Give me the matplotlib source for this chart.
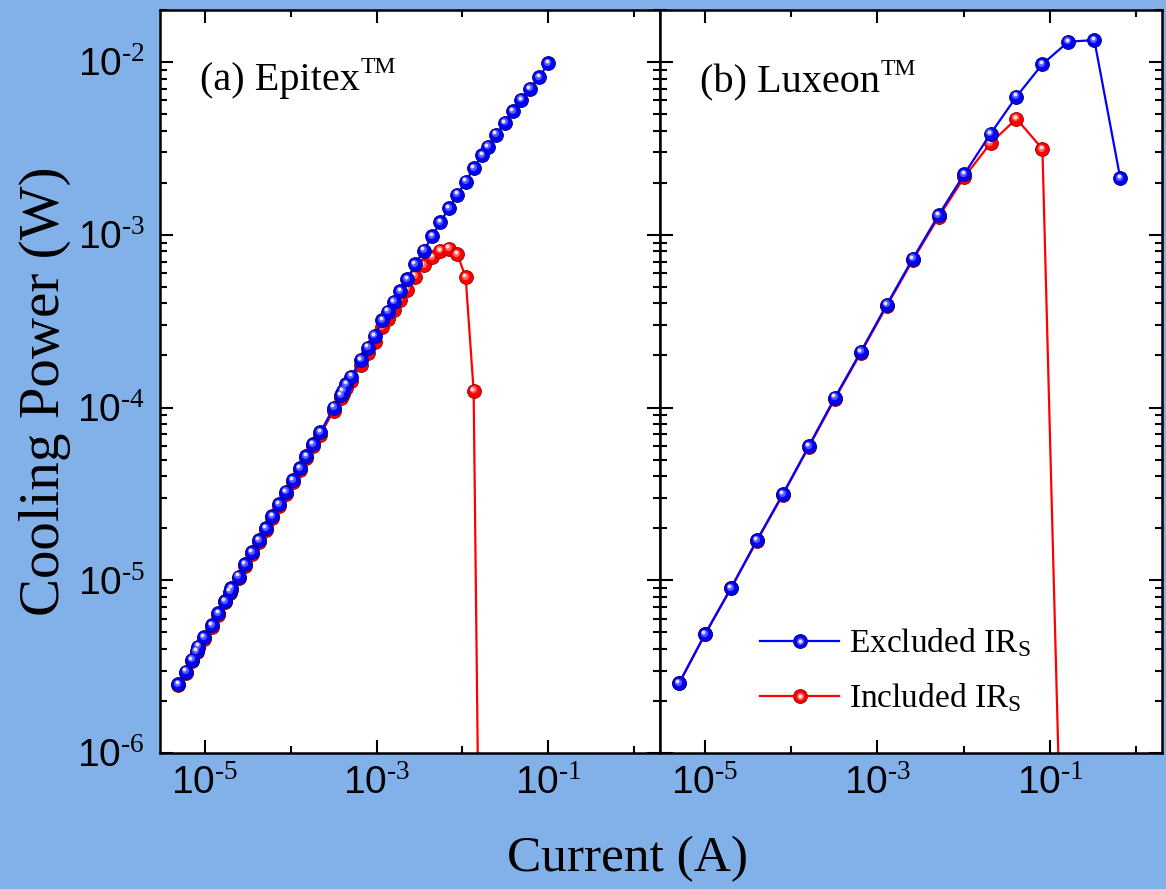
import numpy as np
import matplotlib
matplotlib.use('Agg')
import matplotlib.pyplot as plt
from matplotlib.lines import Line2D
from matplotlib.legend_handler import HandlerTuple
from matplotlib.ticker import LogLocator, NullFormatter, FuncFormatter
from matplotlib.transforms import offset_copy

plt.rcParams['font.family'] = 'Liberation Serif'
plt.rcParams['mathtext.fontset'] = 'custom'
plt.rcParams['mathtext.rm'] = 'Liberation Serif'
plt.rcParams['mathtext.it'] = 'Liberation Serif:italic'
plt.rcParams['mathtext.bf'] = 'Liberation Serif:bold'

# ---- data (A, W) ----
# (a) Epitex
epi_current = [4.9e-6, 6.0e-6, 7.1e-6, 8.0e-6, 8.4e-6, 9.8e-6, 1.2e-5, 1.43e-5, 1.71e-5,
               1.95e-5, 2.04e-5, 2.47e-5, 2.94e-5, 3.55e-5, 4.28e-5, 5.12e-5, 6.13e-5,
               7.31e-5, 8.75e-5, 1.06e-4, 1.27e-4, 1.52e-4, 1.82e-4, 2.22e-4, 3.16e-4,
               3.81e-4, 4.02e-4, 4.44e-4, 5.08e-4, 6.52e-4, 7.92e-4, 9.48e-4, 1.17e-3,
               1.35e-3, 1.58e-3, 1.89e-3, 2.28e-3, 2.80e-3, 3.54e-3, 4.44e-3, 5.55e-3,
               6.93e-3, 8.75e-3, 1.09e-2, 1.35e-2, 1.70e-2, 1.97e-2, 2.47e-2, 3.10e-2,
               3.89e-2, 4.85e-2, 6.06e-2, 7.86e-2, 1.0e-1]
epi_excluded = [2.51e-6, 2.96e-6, 3.46e-6, 3.90e-6, 4.13e-6, 4.68e-6, 5.49e-6, 6.44e-6,
                7.59e-6, 8.59e-6, 8.99e-6, 1.05e-5, 1.24e-5, 1.45e-5, 1.70e-5, 2.00e-5,
                2.34e-5, 2.76e-5, 3.25e-5, 3.81e-5, 4.45e-5, 5.24e-5, 6.15e-5, 7.19e-5,
                1.00e-4, 1.18e-4, 1.25e-4, 1.36e-4, 1.51e-4, 1.89e-4, 2.22e-4, 2.60e-4,
                3.19e-4, 3.59e-4, 4.09e-4, 4.73e-4, 5.53e-4, 6.74e-4, 8.09e-4, 9.81e-4,
                1.18e-3, 1.43e-3, 1.71e-3, 2.03e-3, 2.43e-3, 2.88e-3, 3.23e-3, 3.80e-3,
                4.45e-3, 5.20e-3, 6.04e-3, 7.00e-3, 8.18e-3, 9.85e-3]
epi_included = [2.46e-6, 2.90e-6, 3.39e-6, 3.82e-6, 4.05e-6, 4.59e-6, 5.38e-6, 6.31e-6,
                7.44e-6, 8.42e-6, 8.81e-6, 1.03e-5, 1.21e-5, 1.42e-5, 1.66e-5, 1.95e-5,
                2.28e-5, 2.69e-5, 3.16e-5, 3.71e-5, 4.33e-5, 5.09e-5, 5.96e-5, 6.96e-5,
                9.6e-5, 1.13e-4, 1.19e-4, 1.29e-4, 1.43e-4, 1.77e-4, 2.07e-4, 2.41e-4,
                2.92e-4, 3.27e-4, 3.68e-4, 4.20e-4, 4.80e-4, 5.73e-4, 6.65e-4, 7.40e-4,
                8.07e-4, 8.31e-4, 7.69e-4, 5.67e-4, 1.25e-4, 5e-9]

# (b) Luxeon
lux_current = [5e-6, 1e-5, 2e-5, 4e-5, 8e-5, 1.6e-4, 3.2e-4, 6.4e-4, 1.28e-3, 2.56e-3,
               5.12e-3, 1.02e-2, 2.05e-2, 4.1e-2, 8.2e-2, 0.164, 0.328, 0.655]
lux_excluded = [2.54e-6, 4.89e-6, 9.03e-6, 1.71e-5, 3.16e-5, 5.99e-5, 1.14e-4, 2.10e-4,
                3.93e-4, 7.25e-4, 1.30e-3, 2.25e-3, 3.84e-3, 6.31e-3, 9.72e-3, 1.31e-2,
                1.34e-2, 2.13e-3]
lux_included = [2.53e-6, 4.86e-6, 8.96e-6, 1.69e-5, 3.13e-5, 5.92e-5, 1.12e-4, 2.07e-4,
                3.86e-4, 7.10e-4, 1.265e-3, 2.16e-3, 3.39e-3, 4.69e-3, 3.14e-3, 6e-9]

x_major = [1e-5, 1e-3, 1e-1]
x_minor = [1e-4, 1e-2, 1e0]

BG = '#82B0E9'
BLUE = dict(col='#0000FF', dark='#00007A', mid='#5858FF', hi='#E4E4FF')
RED = dict(col='#FF0000', dark='#9A0000', mid='#FF6060', hi='#FFE4E4')
MS = 10


def pow_label(v, pos=None):
    e = int(round(np.log10(v)))
    return r'$\mathdefault{10^{\text{%d}}}$' % e


fig = plt.figure(figsize=(11.66, 8.89), dpi=100, facecolor=BG)
axa = fig.add_axes([160/1166, 136/889, 500/1166, 743/889])
axb = fig.add_axes([660/1166, 136/889, 502/1166, 743/889])


def balls(ax, x, y, c, z):
    # line + shaded sphere markers
    ax.plot(x, y, '-', color=c['col'], lw=1.6, zorder=z)
    ax.plot(x, y, 'o', ls='none', ms=MS, mfc=c['col'], mec=c['dark'], mew=0.6, zorder=z + 0.1)
    t1 = offset_copy(ax.transData, fig=fig, x=-0.8, y=1.0, units='points')
    ax.plot(x, y, 'o', ls='none', ms=5.2, mfc=c['mid'], mec='none', zorder=z + 0.2, transform=t1)
    t2 = offset_copy(ax.transData, fig=fig, x=-1.2, y=1.6, units='points')
    ax.plot(x, y, 'o', ls='none', ms=2.8, mfc=c['hi'], mec='none', zorder=z + 0.3, transform=t2)


for ax in (axa, axb):
    ax.set_xscale('log')
    ax.set_yscale('log')
    ax.set_xlim(3e-6, 2)
    ax.set_ylim(1e-6, 2e-2)
    ax.set_facecolor('white')

balls(axa, epi_current[:len(epi_included)], epi_included, RED, 2)
balls(axa, epi_current, epi_excluded, BLUE, 3)
balls(axb, lux_current[:len(lux_included)], lux_included, RED, 2)
balls(axb, lux_current, lux_excluded, BLUE, 3)

for ax in (axa, axb):
    ax.set_xticks(x_major)
    ax.set_xticks(x_minor, minor=True)
    ax.xaxis.set_major_formatter(FuncFormatter(pow_label))
    ax.xaxis.set_minor_formatter(NullFormatter())
    ax.yaxis.set_major_locator(LogLocator(base=10, numticks=10))
    ax.yaxis.set_major_formatter(FuncFormatter(pow_label))
    ax.yaxis.set_minor_locator(LogLocator(base=10, subs=np.arange(2, 10), numticks=10))
    ax.yaxis.set_minor_formatter(NullFormatter())
    ax.tick_params(which='both', direction='in', top=True, right=True, width=1.5,
                   labelsize=28, labelfontfamily='Liberation Sans', color='black')
    ax.tick_params(which='major', length=9.5)
    ax.tick_params(which='minor', length=5)
    ax.tick_params(axis='x', pad=9)
    ax.tick_params(axis='y', pad=11)
    for s in ax.spines.values():
        s.set_linewidth(1.8)

axb.tick_params(labelleft=False)

for ax, name, yb in ((axa, '(a) Epitex', 0.892), (axb, '(b) Luxeon', 0.889)):
    t = ax.text(0.08, yb, name, transform=ax.transAxes, fontsize=29, ha='left', va='baseline')
    ax.annotate('TM', xy=(1, 1), xycoords=t, xytext=(0.5, 4), textcoords='offset points',
                fontsize=17, ha='left', va='top')

fig.text(45/1166, 0.56, 'Cooling Power (W)', fontsize=41, rotation=90,
         ha='center', va='center')
fig.text(628/1166, 30/889, 'Current (A)', fontsize=37, ha='center', va='center')


def handle(c):
    l1 = Line2D([], [], color=c['col'], lw=1.6, marker='o', ms=MS, mfc=c['col'],
                mec=c['dark'], mew=0.6)
    l2 = Line2D([], [], ls='none', marker='o', ms=5.2, mfc=c['mid'], mec='none')
    l3 = Line2D([], [], ls='none', marker='o', ms=2.8, mfc=c['hi'], mec='none')
    return (l1, l2, l3)


axb.legend([handle(BLUE), handle(RED)],
           [r'Excluded IR$_{\mathrm{S}}$', r'Included IR$_{\mathrm{S}}$'],
           handler_map={tuple: HandlerTuple(ndivide=1, pad=0)},
           loc='upper left', bbox_to_anchor=(0.2, 0.17), frameon=False,
           fontsize=24, handlelength=2.35, handletextpad=0.3, labelspacing=0.66,
           borderpad=0, borderaxespad=0)

fig.savefig('out.png', dpi=100, facecolor=BG)
